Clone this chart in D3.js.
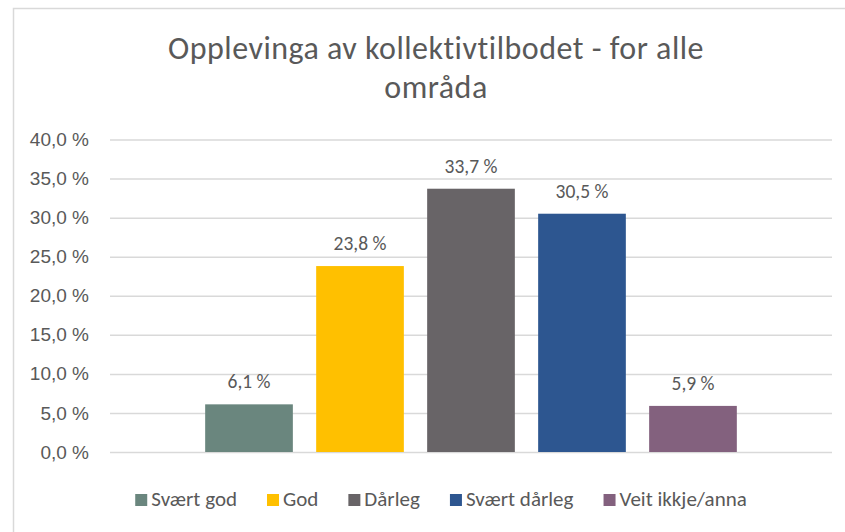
<!DOCTYPE html>
<html lang="nn">
<head>
<meta charset="UTF-8">
<title>Opplevinga av kollektivtilbodet - for alle områda</title>
<script src="https://d3js.org/d3.v7.min.js"></script>
<style>
  body { margin: 0; background: #fff; }
  svg { display: block; font-family: Carlito, Calibri, Lato, sans-serif; }
  .grid line { stroke: #d9d9d9; stroke-width: 1.5; }
  .grid path { display: none; }
  .y-axis path, .y-axis line { display: none; }
  .y-axis text { fill: #595959; font-size: 19px; }
</style>
</head>
<body>
<svg width="845" height="532"></svg>
<script>
// data
const titleLines = ['Opplevinga av kollektivtilbodet - for alle', 'områda'];
const category = ['Alle område'];
const seriesNames = ['Svært god', 'God', 'Dårleg', 'Svært dårleg', 'Veit ikkje/anna'];
const seriesValues = [6.1, 23.8, 33.7, 30.5, 5.9];
const seriesColors = ['#6a867e', '#ffc000', '#686467', '#2d5690', '#83617e'];
const tickValues = [0, 5, 10, 15, 20, 25, 30, 35, 40];

const data = seriesNames.map((name, i) => ({ name, value: seriesValues[i], color: seriesColors[i] }));

const svg = d3.select('svg');

// chart frame
svg.append('rect')
    .attr('x', 13.5).attr('y', 8.5)
    .attr('width', 900).attr('height', 600)
    .attr('fill', '#fff')
    .attr('stroke', '#d9d9d9')
    .attr('stroke-width', 1.5);

// title, one text per line
svg.selectAll('.title')
    .data(titleLines)
    .enter()
    .append('text')
    .attr('class', 'title')
    .attr('x', 436)
    .attr('y', (d, i) => 59 + i * 38.5)
    .attr('text-anchor', 'middle')
    .attr('fill', '#595959')
    .style('font-size', '32px')
    .style('letter-spacing', '0.5px')
    .text(d => d);

// plot area
const plot = { left: 110, right: 832, top: 139.5, bottom: 452 };
const g = svg.append('g').attr('transform', `translate(${plot.left},0)`);
const plotWidth = plot.right - plot.left;

const y = d3.scaleLinear()
    .domain([0, d3.max(tickValues)])
    .range([plot.bottom, plot.top]);

const x0 = d3.scaleBand()
    .domain(category)
    .range([0, plotWidth])
    .paddingInner(0)
    .paddingOuter(0.179);

const x1 = d3.scaleBand()
    .domain(seriesNames)
    .range([0, x0.bandwidth()])
    .paddingInner(0.21)
    .paddingOuter(0);

const nb = d3.formatLocale({ decimal: ',', thousands: '\u00a0', grouping: [3], currency: ['', ' kr'], percent: '\u00a0%' });
const fmt = v => nb.format('.1%')(v / 100);

// gridlines
g.append('g')
    .attr('class', 'grid')
    .call(d3.axisLeft(y).tickValues(tickValues).tickSize(-plotWidth).tickFormat(''));

// y axis labels
g.append('g')
    .attr('class', 'y-axis')
    .call(d3.axisLeft(y).tickValues(tickValues).tickSize(0).tickPadding(21).tickFormat(fmt));

// bars
const cluster = g.append('g').attr('transform', `translate(${x0(category[0])},0)`);

cluster.selectAll('.bar')
    .data(data)
    .enter()
    .append('rect')
    .attr('class', 'bar')
    .attr('x', d => x1(d.name))
    .attr('y', d => y(d.value))
    .attr('width', x1.bandwidth())
    .attr('height', d => y(0) - y(d.value))
    .attr('fill', d => d.color);

// data labels
cluster.selectAll('.label')
    .data(data)
    .enter()
    .append('text')
    .attr('class', 'label')
    .attr('x', d => x1(d.name) + x1.bandwidth() / 2)
    .attr('y', d => y(d.value) - 16)
    .attr('text-anchor', 'middle')
    .attr('fill', '#595959')
    .style('font-size', '19.5px')
    .text(d => fmt(d.value));

// legend
const legend = svg.append('g');
const items = legend.selectAll('.item')
    .data(data)
    .enter()
    .append('g')
    .attr('class', 'item');

items.append('rect')
    .attr('width', 12).attr('height', 12)
    .attr('y', 494)
    .attr('fill', d => d.color);

items.append('text')
    .attr('x', 16)
    .attr('y', 506)
    .attr('fill', '#595959')
    .style('font-size', '21px')
    .text(d => d.name);

const gap = 30;
let pos = 0;
const offsets = [];
items.each(function () {
    offsets.push(pos);
    pos += this.getBBox().width + gap;
});
const start = 441 - (pos - gap) / 2;
items.attr('transform', (d, i) => `translate(${start + offsets[i]},0)`);
</script>
</body>
</html>
